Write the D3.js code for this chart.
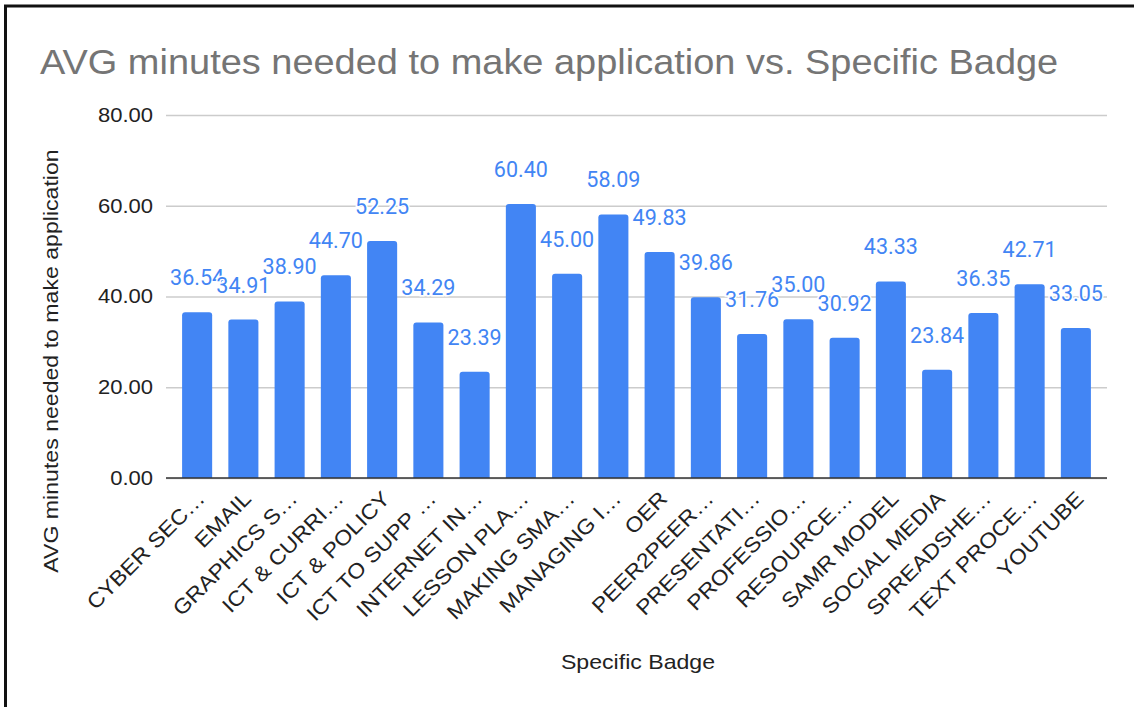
<!DOCTYPE html>
<html>
<head>
<meta charset="utf-8">
<script src="https://cdn.jsdelivr.net/npm/d3@7"></script>
<style>
  html, body { margin: 0; padding: 0; background: #fff; }
  svg { display: block; }
</style>
</head>
<body>
<svg id="chart" width="1134" height="707"></svg>
<script>
// Badge names as shown on the axis (long names are cut with an ellipsis)
const categories = [
  "CYBER SEC…", "EMAIL", "GRAPHICS S…", "ICT & CURRI…", "ICT & POLICY",
  "ICT TO SUPP …", "INTERNET IN…", "LESSON PLA…", "MAKING SMA…", "MANAGING I…",
  "OER", "PEER2PEER…", "PRESENTATI…", "PROFESSIO…", "RESOURCE…",
  "SAMR MODEL", "SOCIAL MEDIA", "SPREADSHE…", "TEXT PROCE…", "YOUTUBE"
];
// Average minutes needed to make an application, per badge
const avgMinutes = [
  36.54, 34.91, 38.90, 44.70, 52.25,
  34.29, 23.39, 60.40, 45.00, 58.09,
  49.83, 39.86, 31.76, 35.00, 30.92,
  43.33, 23.84, 36.35, 42.71, 33.05
];
const yTicks = [0, 20, 40, 60, 80];

const SANS = "Liberation Sans, Arial, sans-serif";
const WIDEN = 1.1; // text in this chart is set slightly wide

// widen text along its baseline by the given factor
function widen(sel, k) {
  sel.each(function () {
    const len = this.getComputedTextLength();
    d3.select(this).attr("textLength", len * k).attr("lengthAdjust", "spacingAndGlyphs");
  });
}

const svg = d3.select("#chart");
const W = 1134, H = 707;

svg.append("rect").attr("width", W).attr("height", H).attr("fill", "#fff");

// frame lines along the top and left edge
svg.append("line").attr("x1", 4).attr("x2", W).attr("y1", 6).attr("y2", 6)
  .attr("stroke", "#111").attr("stroke-width", 3);
svg.append("line").attr("x1", 5.5).attr("x2", 5.5).attr("y1", 5).attr("y2", H)
  .attr("stroke", "#111").attr("stroke-width", 3);

const plotLeft = 166, plotRight = 1107;
const y = d3.scaleLinear().domain([0, 80]).range([478, 115]);
const x = d3.scaleBand().domain(categories).range([174, 1099])
  .paddingInner(0.35).paddingOuter(0.175);

// title
svg.append("text")
  .attr("x", 40).attr("y", 74)
  .attr("font-family", SANS)
  .attr("font-size", 34.5)
  .attr("fill", "#757575")
  .text("AVG minutes needed to make application vs. Specific Badge")
  .call(widen, WIDEN);

// gridlines and y tick labels
const yAxis = d3.axisLeft(y).tickValues(yTicks)
  .tickSize(-(plotRight - plotLeft)).tickPadding(13)
  .tickFormat(d3.format(".2f"));
const gy = svg.append("g").attr("transform", `translate(${plotLeft},0)`).call(yAxis);
gy.select(".domain").remove();
gy.selectAll(".tick line").attr("stroke", "#cccccc").attr("stroke-width", 1.3);
gy.selectAll(".tick text")
  .attr("font-family", SANS)
  .attr("font-size", 20).attr("fill", "#222")
  .call(widen, WIDEN);

// bars with rounded tops
const r = 3;
svg.append("g").selectAll("path").data(avgMinutes).join("path")
  .attr("fill", "#4285f4")
  .attr("d", (d, i) => {
    const x0 = x(categories[i]), w = x.bandwidth();
    const y0 = y(d), yb = y(0);
    return `M${x0},${yb}V${y0 + r}Q${x0},${y0} ${x0 + r},${y0}H${x0 + w - r}Q${x0 + w},${y0} ${x0 + w},${y0 + r}V${yb}Z`;
  });

// baseline
svg.append("line").attr("x1", plotLeft).attr("x2", plotRight)
  .attr("y1", y(0)).attr("y2", y(0)).attr("stroke", "#333").attr("stroke-width", 1.5);

// value labels with a white halo
svg.append("g").selectAll("text").data(avgMinutes).join("text")
  .attr("x", (d, i) => x(categories[i]) + x.bandwidth() / 2)
  .attr("y", d => y(d) - 27)
  .attr("text-anchor", "middle")
  .attr("font-family", "Roboto, sans-serif")
  .attr("font-size", 21.5)
  .attr("fill", "#4285f4")
  .attr("stroke", "#fff").attr("stroke-width", 3)
  .attr("paint-order", "stroke")
  .text(d => d3.format(".2f")(d));

// x category labels, rotated
const gx = svg.append("g").attr("transform", `translate(0,${y(0)})`)
  .call(d3.axisBottom(x).tickSize(0).tickPadding(0));
gx.select(".domain").remove();
gx.selectAll(".tick text")
  .attr("font-family", SANS)
  .attr("font-size", 21).attr("fill", "#222")
  .attr("text-anchor", "end")
  .attr("dy", null).attr("y", 0)
  .attr("transform", "translate(9,22) rotate(-45)")
  .call(widen, WIDEN);

// axis titles
svg.append("text")
  .attr("x", 638).attr("y", 669).attr("text-anchor", "middle")
  .attr("font-family", SANS)
  .attr("font-size", 21).attr("fill", "#222")
  .text("Specific Badge")
  .call(widen, WIDEN);

svg.append("text")
  .attr("transform", "translate(58,361) rotate(-90)")
  .attr("text-anchor", "middle")
  .attr("font-family", SANS)
  .attr("font-size", 21).attr("fill", "#222")
  .text("AVG minutes needed to make application")
  .call(widen, WIDEN);
</script>
</body>
</html>
